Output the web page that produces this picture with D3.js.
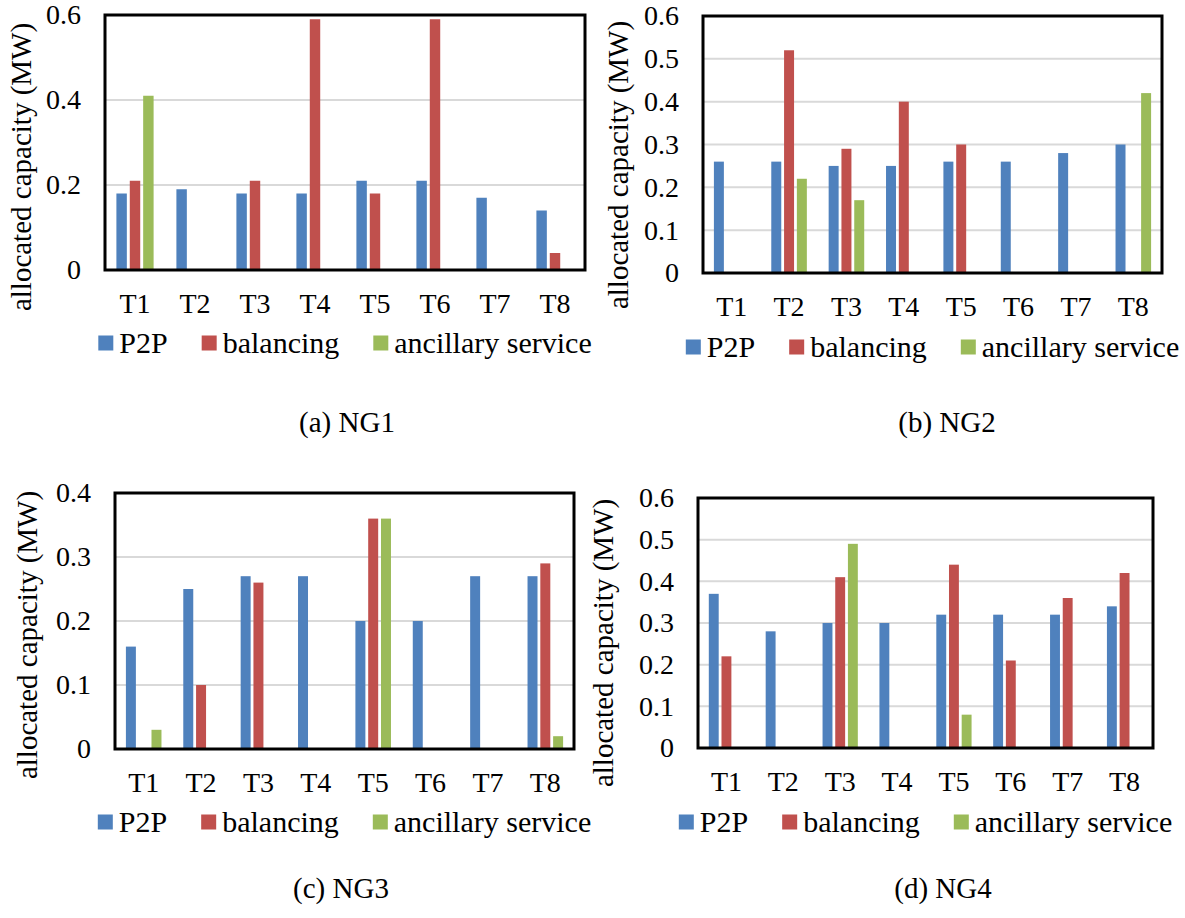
<!DOCTYPE html>
<html>
<head>
<meta charset="utf-8">
<script src="https://cdn.jsdelivr.net/npm/d3@7"></script>
</head>
<body style="margin:0; background:#fff">
<svg id="chart" width="1185" height="918"></svg>
<script>
// categories and series shared by all four panels
const categories = ["T1", "T2", "T3", "T4", "T5", "T6", "T7", "T8"]
const seriesNames = ["P2P", "balancing", "ancillary service"]
const seriesColors = ["#4F81BD", "#C0504D", "#9BBB59"]

// (a) NG1
const ng1P2P = [0.18, 0.19, 0.18, 0.18, 0.21, 0.21, 0.17, 0.14]
const ng1Balancing = [0.21, 0, 0.21, 0.59, 0.18, 0.59, 0, 0.04]
const ng1Ancillary = [0.41, 0, 0, 0, 0, 0, 0, 0]
const ng1Ticks = [0, 0.2, 0.4, 0.6]

// (b) NG2
const ng2P2P = [0.26, 0.26, 0.25, 0.25, 0.26, 0.26, 0.28, 0.30]
const ng2Balancing = [0, 0.52, 0.29, 0.40, 0.30, 0, 0, 0]
const ng2Ancillary = [0, 0.22, 0.17, 0, 0, 0, 0, 0.42]
const ng2Ticks = [0, 0.1, 0.2, 0.3, 0.4, 0.5, 0.6]

// (c) NG3
const ng3P2P = [0.16, 0.25, 0.27, 0.27, 0.20, 0.20, 0.27, 0.27]
const ng3Balancing = [0, 0.10, 0.26, 0, 0.36, 0, 0, 0.29]
const ng3Ancillary = [0.03, 0, 0, 0, 0.36, 0, 0, 0.02]
const ng3Ticks = [0, 0.1, 0.2, 0.3, 0.4]

// (d) NG4
const ng4P2P = [0.37, 0.28, 0.30, 0.30, 0.32, 0.32, 0.32, 0.34]
const ng4Balancing = [0.22, 0, 0.41, 0, 0.44, 0.21, 0.36, 0.42]
const ng4Ancillary = [0, 0, 0.49, 0, 0.08, 0, 0, 0]
const ng4Ticks = [0, 0.1, 0.2, 0.3, 0.4, 0.5, 0.6]

const captions = ["(a) NG1", "(b) NG2", "(c) NG3", "(d) NG4"]
const yTitle = "allocated capacity (MW)"

const serif = '"Liberation Serif", "Times New Roman", Times, serif'

// where each panel sits on the page
const layouts = [
  { box: [105, 585, 15, 270], title: [22, 167], legendY: 343, caption: [347, 432] },
  { box: [703, 1162, 16, 273], title: [619, 165], legendY: 347, caption: [947, 432] },
  { box: [115, 574, 493, 749], title: [28, 635], legendY: 822, caption: [341, 898] },
  { box: [698, 1153, 498, 748], title: [604, 643], legendY: 822, caption: [943, 898] }
]

const panelData = [
  { series: [ng1P2P, ng1Balancing, ng1Ancillary], ticks: ng1Ticks },
  { series: [ng2P2P, ng2Balancing, ng2Ancillary], ticks: ng2Ticks },
  { series: [ng3P2P, ng3Balancing, ng3Ancillary], ticks: ng3Ticks },
  { series: [ng4P2P, ng4Balancing, ng4Ancillary], ticks: ng4Ticks }
]

const svg = d3.select('#chart').style("font-family", serif)

function drawPanel(data, layout, caption) {
  const [left, right, top, bottom] = layout.box
  const g = svg.append("g")

  const x0 = d3.scaleBand().domain(categories).range([left, right])
                .paddingInner(0.38).paddingOuter(0.19)
  const x1 = d3.scaleBand().domain(d3.range(seriesNames.length))
                .range([0, x0.bandwidth()]).paddingInner(0.22)
  const yMax = data.ticks[data.ticks.length - 1]
  const y = d3.scaleLinear().domain([0, yMax]).range([bottom, top])

  // gridlines (skip 0 and top, the box covers them)
  g.append("g").selectAll("line")
    .data(data.ticks.filter(t => t > 0 && t < yMax))
    .join("line")
      .attr("x1", left).attr("x2", right)
      .attr("y1", d => y(d)).attr("y2", d => y(d))
      .attr("stroke", "#D9D9D9").attr("stroke-width", 2)

  // bars
  const rows = []
  categories.forEach((c, i) => {
    data.series.forEach((s, k) => rows.push({ cat: c, k: k, v: s[i] }))
  })
  g.append("g").selectAll("rect")
    .data(rows.filter(r => r.v > 0))
    .join("rect")
      .attr("x", d => x0(d.cat) + x1(d.k))
      .attr("y", d => y(d.v))
      .attr("width", x1.bandwidth())
      .attr("height", d => y(0) - y(d.v))
      .attr("fill", d => seriesColors[d.k])

  // plot box
  g.append("rect")
    .attr("x", left).attr("y", top)
    .attr("width", right - left).attr("height", bottom - top)
    .attr("fill", "none").attr("stroke", "#000").attr("stroke-width", 3)

  // y axis
  const yAxis = g.append("g")
    .attr("transform", `translate(${left},0)`)
    .call(d3.axisLeft(y).tickValues(data.ticks).tickSize(0).tickPadding(24)
            .tickFormat(d => d === 0 ? "0" : d3.format(".1f")(d)))
  yAxis.attr("font-family", null).attr("font-size", null)
  yAxis.select(".domain").remove()
  yAxis.selectAll("text").style("font-family", serif).style("font-size", "28px")
       .attr("fill", "#000")

  // x axis
  const xAxis = g.append("g")
    .attr("transform", `translate(0,${bottom})`)
    .call(d3.axisBottom(x0).tickSize(0))
  xAxis.attr("font-family", null).attr("font-size", null)
  xAxis.select(".domain").remove()
  xAxis.selectAll("text").style("font-family", serif).style("font-size", "28px")
       .attr("fill", "#000").attr("y", 43).attr("dy", 0)

  // axis title
  g.append("text")
    .attr("transform", `translate(${layout.title[0]},${layout.title[1]}) rotate(-90)`)
    .attr("text-anchor", "middle")
    .attr("dy", "0.3em")
    .style("font-family", serif).style("font-size", "29px")
    .text(yTitle)

  // legend, centred under the box
  const legend = g.append("g")
  let cursor = 0
  seriesNames.forEach((name, k) => {
    const item = legend.append("g").attr("transform", `translate(${cursor},0)`)
    item.append("rect").attr("x", 0).attr("y", -7.5)
        .attr("width", 15).attr("height", 15).attr("fill", seriesColors[k])
    const t = item.append("text").attr("x", 21).attr("dy", "0.33em")
        .style("font-family", serif).style("font-size", "30px").text(name)
    cursor += 21 + t.node().getComputedTextLength() + 34
  })
  const legendWidth = cursor - 34
  legend.attr("transform", `translate(${(left + right) / 2 - legendWidth / 2},${layout.legendY})`)

  // caption
  g.append("text")
    .attr("x", layout.caption[0]).attr("y", layout.caption[1])
    .attr("text-anchor", "middle")
    .style("font-family", serif).style("font-size", "29px")
    .text(caption)
}

panelData.forEach((d, i) => drawPanel(d, layouts[i], captions[i]))
</script>
</body>
</html>
